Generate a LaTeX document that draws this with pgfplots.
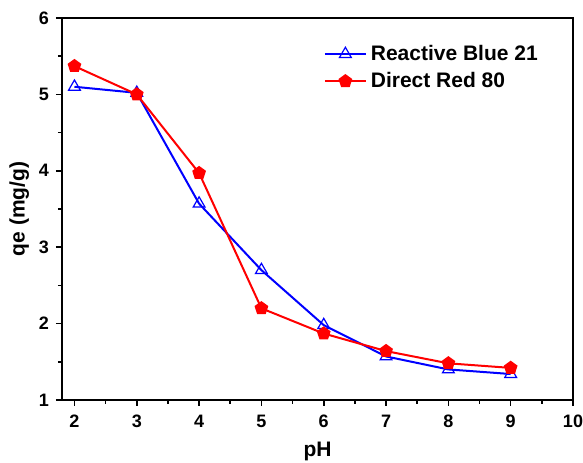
\documentclass[border=0pt]{standalone}
\usepackage{pgfplots}
\pgfplotsset{compat=1.18}
\usepackage{fontspec}
\setmainfont{Liberation Sans}
\begin{document}
\begin{tikzpicture}[font=\bfseries]
\begin{axis}[
  scale only axis, width=255.5pt, height=191pt,
  xmin=1.8, xmax=10, ymin=1, ymax=6,
  xtick={2,3,...,10}, ytick={1,2,...,6},
  minor x tick num=1, minor y tick num=1,
  xtick pos=bottom, ytick pos=left,
  tick align=outside,
  major tick length=3pt, minor tick length=2pt,
  axis line style={line width=1pt},
  every tick/.style={black, line width=0.8pt},
  /pgf/number format/assume math mode=true,
  tick label style={font=\bfseries\fontsize{9}{10}\selectfont},
  xticklabel style={yshift=-1pt},
  xlabel={pH}, ylabel={qe (mg/g)},
  label style={font=\bfseries\fontsize{10.5}{12}\selectfont},
  xlabel style={yshift=0pt},
  ylabel style={yshift=-2pt},
  legend style={draw=none, fill=none, at={(0.5,0.87)}, anchor=west,
    font=\bfseries\fontsize{10.5}{12}\selectfont, row sep=0.5pt},
  legend cell align=left,
  legend image code/.code={\draw[#1,mark repeat=2,mark phase=2] plot coordinates {(0cm,0cm)(0.36cm,0cm)(0.72cm,0cm)};},
]
\addplot[blue, line width=1pt, mark=triangle, mark size=3.4pt, mark options={solid, line width=0.6pt, fill=white}] coordinates {
(2,5.10) (3,5.02) (4,3.57) (5,2.70) (6,1.98) (7,1.57) (8,1.40) (9,1.34)};
\addlegendentry{Reactive Blue 21}
\addplot[red, line width=1pt, mark=pentagon*, mark size=3pt, mark options={solid, fill=red}] coordinates {
(2,5.37) (3,5.00) (4,3.97) (5,2.20) (6,1.87) (7,1.64) (8,1.48) (9,1.42)};
\addlegendentry{Direct Red 80}
\end{axis}
\pgfresetboundingbox
\path[use as bounding box] ([shift={(-31pt,-31.5pt)}]current axis.south west) rectangle ([shift={(5pt,9pt)}]current axis.north east);
\end{tikzpicture}
\end{document}
